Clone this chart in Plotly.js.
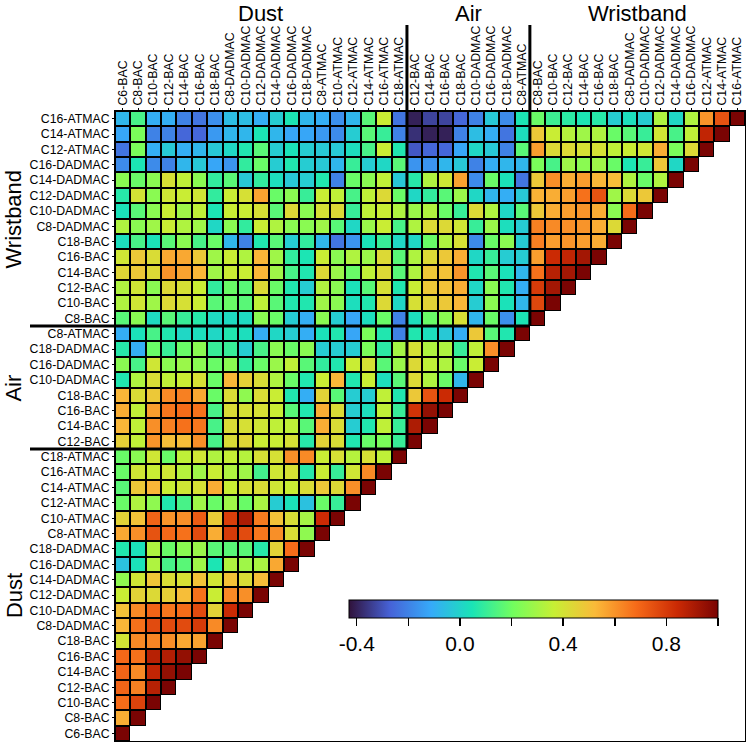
<!DOCTYPE html>
<html>
<head>
<meta charset="utf-8">
<script src="https://cdn.plot.ly/plotly-3.0.1.min.js"></script>
<style>
html,body{margin:0;padding:0;background:#fff;}
#chart{width:748px;height:744px;}
</style>
</head>
<body>
<div id="chart"></div>
<script>
// ---- labels ----
const dustLabels = ["C6-BAC","C8-BAC","C10-BAC","C12-BAC","C14-BAC","C16-BAC","C18-BAC",
  "C8-DADMAC","C10-DADMAC","C12-DADMAC","C14-DADMAC","C16-DADMAC","C18-DADMAC",
  "C8-ATMAC","C10-ATMAC","C12-ATMAC","C14-ATMAC","C16-ATMAC","C18-ATMAC"];
const airLabels = ["C12-BAC","C14-BAC","C16-BAC","C18-BAC","C10-DADMAC","C16-DADMAC","C18-DADMAC","C8-ATMAC"];
const wristLabels = ["C8-BAC","C10-BAC","C12-BAC","C14-BAC","C16-BAC","C18-BAC",
  "C8-DADMAC","C10-DADMAC","C12-DADMAC","C14-DADMAC","C16-DADMAC","C12-ATMAC","C14-ATMAC","C16-ATMAC"];
const groupNames = ["Dust","Air","Wristband"];

// ---- correlation values: row i (from bottom) holds columns 0..i ----
const corrRows = [
 [1],
 [0.55,1],
 [0.68,0.78,1],
 [0.70,0.64,0.88,1],
 [0.70,0.62,0.86,0.95,1],
 [0.69,0.67,0.88,0.89,0.95,1],
 [0.40,0.62,0.63,0.61,0.56,0.57,1],
 [0.53,0.67,0.76,0.76,0.76,0.80,0.62,1],
 [0.50,0.62,0.70,0.66,0.68,0.76,0.45,0.84,1],
 [0.37,0.45,0.43,0.46,0.51,0.67,0.37,0.62,0.61,1],
 [0.26,0.39,0.49,0.42,0.41,0.50,0.39,0.50,0.42,0.51,1],
 [-0.05,0.04,0.32,0.13,0.16,0.29,0.05,0.32,0.29,0.31,0.56,1],
 [0.06,0.04,0.32,0.19,0.25,0.28,0.16,0.16,0.16,0.07,0.45,0.68,1],
 [0.56,0.61,0.74,0.69,0.67,0.76,0.55,0.80,0.76,0.66,0.61,0.42,0.26,1],
 [0.45,0.50,0.70,0.60,0.61,0.72,0.47,0.79,0.90,0.65,0.50,0.42,0.30,0.84,1],
 [0.19,0.32,0.26,0.06,0.13,0.29,0.19,0.29,0.19,0.31,-0.02,0.04,-0.05,0.19,0.10,1],
 [0.16,0.48,0.53,0.37,0.39,0.41,0.55,0.37,0.41,0.42,0.39,0.37,0.42,0.48,0.43,0.61,1],
 [0.19,0.39,0.37,0.39,0.33,0.29,0.37,0.32,0.29,0.12,0.39,0.41,0.07,0.37,0.10,0.39,0.62,1],
 [0.19,0.25,0.39,0.19,0.35,0.39,0.32,0.36,0.33,0.41,0.41,0.61,0.62,0.37,0.41,0.33,0.41,0.35,1],
 [0.46,0.35,0.60,0.51,0.51,0.61,0.13,0.42,0.44,0.37,0.37,0.41,0.07,0.45,0.42,0.06,0.19,0.22,0.10,1],
 [0.53,0.35,0.61,0.64,0.67,0.66,0.13,0.42,0.41,0.39,0.35,0.35,0.16,0.55,0.42,-0.02,0.06,0.35,0.10,0.90,1],
 [0.55,0.35,0.58,0.66,0.68,0.67,0.13,0.42,0.41,0.41,0.37,0.16,0.06,0.55,0.42,-0.02,0.03,0.35,0.10,0.82,0.95,1],
 [0.53,0.42,0.48,0.62,0.64,0.56,0.19,0.42,0.26,0.42,0.37,0.06,-0.10,0.45,0.16,-0.02,-0.02,0.35,0.06,0.48,0.74,0.84,1],
 [0.06,0.32,0.42,0.35,0.37,0.41,0.19,0.53,0.46,0.42,0.32,0.19,0.06,0.37,0.53,0.06,0.37,0.03,0.16,0.43,0.32,0.19,-0.08,1],
 [0.25,0.13,0.39,0.25,0.28,0.25,0.19,0.25,0.09,0.19,0.28,0.35,0.16,0.09,0.06,0.37,0.41,0.16,0.28,0.43,0.35,0.32,0.19,0.37,1],
 [0.07,-0.10,0.19,0.10,0.19,0.25,0.10,0.10,-0.02,0.13,0.25,0.19,0.25,-0.02,-0.02,-0.02,0.22,0.08,0.30,0.41,0.32,0.32,0.10,0.35,0.61,1],
 [-0.10,0.04,0.13,0.06,0.01,0.03,0.01,0.06,0.03,-0.10,0.01,-0.02,-0.10,0.04,0.06,-0.12,0.22,0.06,-0.20,0.06,0.03,-0.03,-0.10,0.48,0.16,0.06,1],
 [0.16,0.25,0.02,0.16,0.10,0.07,0.02,0.02,0.02,0.25,0.19,-0.02,-0.10,0.25,-0.02,-0.12,0.03,0.19,-0.20,0.03,0.19,0.25,0.41,-0.08,0.19,-0.17,0.05,1],
 [0.32,0.39,0.29,0.43,0.41,0.37,0.16,0.19,0.16,0.35,0.16,0.06,0.06,0.29, 0.25,0.03,0.06,0.43,0.01,0.41,0.45,0.48,0.53,-0.02,0.25,0.04,-0.08,0.77, 1],
 [0.32,0.39,0.25,0.43,0.41,0.37,0.09,0.19,0.16,0.43,0.19,0.06,-0.02,0.32, 0.25,0.04,0.16,0.41,0.06,0.37,0.48,0.50,0.55,0.01,0.25,0.06,-0.10,0.80, 0.92,1],
 [0.44,0.48,0.43,0.60,0.57,0.53,0.29,0.37,0.37,0.53,0.29,0.13,0.06,0.43, 0.28,0.19,0.35,0.43,0.16,0.32,0.48,0.50,0.60,0.06,0.16,0.04,-0.08,0.67, 0.88,0.92,1],
 [0.39,0.48,0.42,0.56,0.56,0.48,0.29,0.37,0.32,0.53,0.29,0.09,0.05,0.37, 0.25,0.32,0.28,0.43,0.16,0.32,0.43,0.48,0.55,0.01,0.10,-0.02,-0.02,0.58, 0.84,0.86,0.92,1],
 [0.03,0.13,0.04,0.16,0.25,0.13,0.19,-0.08,-0.20,0.06,0.16,-0.02,0.09,-0.08, -0.23,-0.16,0.04,0.10,0.01,0.01,0.19,0.32,0.41,-0.18,0.19,0.25,-0.02,0.64, 0.58,0.60,0.58,0.55,1],
 [0.32,0.25,0.29,0.37,0.32,0.29,0.01,0.25,0.09,0.37,0.32,0.25,0.25,0.29, 0.16,0.01,0.28,0.37,0.13,0.32,0.43,0.43,0.39,0.10,0.28,0.03,-0.02,0.64, 0.62,0.61,0.60,0.55,0.43,1],
 [0.04,0.16,0.25,0.37,0.29,0.35,0.05,0.37,0.37,0.41,0.16,0.43,0.25,0.41, 0.43,0.10,0.35,0.37,0.32,0.28,0.32,0.19,0.10,0.43,0.32,0.01,0.16,0.48, 0.55,0.58,0.60,0.55,0.25,0.68,1],
 [0.07,0.40,0.25,0.39,0.37,0.39,0.09,0.37,0.41,0.57,0.19,0.25,0.10,0.37, 0.35,0.13,0.35,0.43,0.19,0.01,0.09,0.16,0.28,0.01,-0.08,-0.10,-0.03,0.54, 0.55,0.58,0.67,0.74,0.29,0.43,0.48,1],
 [0.25,0.19,0.25,0.41,0.35,0.25,0.09,0.16,-0.03,0.09,0.03,-0.03,-0.02,0.06, -0.20,0.19,0.25,0.35,-0.03,0.07,0.32,0.39,0.57,-0.18,0.19,0.04,-0.23,0.48, 0.61,0.55,0.58,0.53,0.51,0.32,0.19,0.32,1],
 [-0.18,0.05,-0.18,-0.20,-0.08,-0.03,-0.12,-0.16,0.09,0.19,-0.02,0.06,-0.02,-0.03, -0.08,0.10,-0.02,0.01,0.16,-0.16,-0.16,-0.08,-0.03,-0.20,-0.10,-0.08,-0.08,0.22, 0.13,0.29,0.25,0.29,0.19,0.05,0.10,0.48,0.01,1],
 [-0.23,0.22,-0.10,-0.03,-0.10,-0.08,-0.03,0.01,0.06,0.16,-0.02,0.04,-0.02,-0.03, -0.03,0.03,0.13,0.37,0.06,-0.29,-0.26,-0.26,-0.12,0.01,-0.03,-0.20,0.16,0.58, 0.43,0.43,0.41,0.41,0.35,0.37,0.39,0.55,0.22,0.43,1],
 [-0.12,0.22,-0.20,-0.20,-0.26,-0.26,-0.15,-0.08,-0.08,0.05,-0.08,-0.12,-0.12,-0.15, -0.18,-0.02,0.16,0.10,-0.20,-0.37,-0.40,-0.40,-0.20,-0.06,-0.10,-0.23,0.03,0.48, 0.37,0.33,0.29,0.32,0.19,0.16,0.10,0.39,0.13,0.35,0.86,1],
 [-0.08,0.13,-0.10,-0.10,-0.20,-0.23,-0.17,-0.06,-0.06,-0.10,-0.02,0.05,-0.08,-0.10, -0.17,-0.08,0.16,0.37,-0.23,-0.40,-0.33,-0.33,-0.26,-0.20,-0.03,-0.18,0.05,0.19, 0.11,0.08,0.05,0.07,-0.02,0.03,-0.02,0.32,0.01,0.32,0.60,0.74,1]
];

const colorTickVals = [-0.4,-0.2,0,0.2,0.4,0.6,0.8,1.0];
const colorTickText = ["-0.4","","0.0","","0.4","","0.8",""];

// ---- build ----
const labels = dustLabels.concat(airLabels, wristLabels);
const n = labels.length;
const idx = labels.map((_, i) => i);
const z = [], under = [];
for (let i = 0; i < n; i++) {
  const row = [], urow = [];
  for (let j = 0; j < n; j++) {
    if (j <= i) { row.push(corrRows[i][j]); urow.push(1); }
    else { row.push(null); urow.push(null); }
  }
  z.push(row); under.push(urow);
}

const turbo = [[0,'#30123B'],[1/9,'#4662D7'],[2/9,'#36AAF9'],[3/9,'#1AE4B6'],[4/9,'#72FE5E'],
  [5/9,'#C7EF34'],[6/9,'#FABA39'],[7/9,'#F66B19'],[8/9,'#CB2A04'],[1,'#7A0403']];

const L = 115, T = 111, W = 630, H = 630;
const px = x => (x - L) / W;            // pixel -> paper x
const py = y => 1 - (y - T) / H;        // pixel -> paper y
const nD = dustLabels.length, nA = airLabels.length;
const b1 = nD / n, b2 = (nD + nA) / n;  // group boundaries in paper units

const traces = [
  {type:'heatmap', x: idx, y: idx, z: under, colorscale:[[0,'#000'],[1,'#000']],
   showscale:false, hoverinfo:'skip', zmin:0, zmax:1},
  {type:'heatmap', x: idx, y: idx, z: z, colorscale: turbo, zmin:-0.43, zmax:1.0,
   xgap:2, ygap:2,
   colorbar:{orientation:'h', lenmode:'pixels', len:369, thickness:18,
     x: px(349), xanchor:'left', y: py(600), yanchor:'top', xpad:0, ypad:0,
     outlinewidth:1, outlinecolor:'#000',
     tickvals: colorTickVals, ticktext: colorTickText,
     ticks:'outside', ticklen:8, tickwidth:1.5, tickcolor:'#000',
     tickfont:{family:'Liberation Sans, Arial, sans-serif', size:21, color:'#000'}}}
];

const lineStyle = {color:'#000', width:3};
const shapes = [
  // vertical lines from above the plot down to the diagonal
  {type:'line', xref:'paper', yref:'paper', x0:b1, x1:b1, y0:py(25), y1:b1, line:lineStyle},
  {type:'line', xref:'paper', yref:'paper', x0:b2, x1:b2, y0:py(25), y1:b2, line:lineStyle},
  // horizontal lines from the left label area to the diagonal
  {type:'line', xref:'paper', yref:'paper', x0:px(30), x1:b1, y0:b1, y1:b1, line:lineStyle},
  {type:'line', xref:'paper', yref:'paper', x0:px(30), x1:b2, y0:b2, y1:b2, line:lineStyle}
];

const gCenters = [nD/2, nD + nA/2, nD + nA + wristLabels.length/2].map(c => c / n);
const titleFont = {family:'Liberation Sans, Arial, sans-serif', size:22, color:'#000'};
const annotations = [];
groupNames.forEach((g, k) => {
  annotations.push({text:g, xref:'paper', yref:'paper', x:gCenters[k], y:py(-1),
    xanchor:'center', yanchor:'top', showarrow:false, font:titleFont});
  annotations.push({text:g, xref:'paper', yref:'paper', x:px(14), y:gCenters[k],
    xanchor:'center', yanchor:'middle', textangle:-90, showarrow:false, font:titleFont});
});

const tickFont = {family:'Liberation Sans, Arial, sans-serif', size:12.3, color:'#000'};
const layout = {
  width:748, height:744,
  margin:{l:L, r:748-L-W, t:T, b:744-T-H, pad:0},
  paper_bgcolor:'#fff', plot_bgcolor:'#fff',
  xaxis:{side:'top', range:[-0.5, n-0.5], tickvals: idx, ticktext: labels, tickangle:-90,
    tickfont: tickFont, ticks:'outside', ticklen:2, tickcolor:'#000',
    showgrid:false, zeroline:false, showline:true, mirror:true, linecolor:'#000', linewidth:1,
    fixedrange:true},
  yaxis:{range:[-0.5, n-0.5], tickvals: idx, ticktext: labels,
    tickfont: tickFont, ticks:'outside', ticklen:2, tickcolor:'#000',
    showgrid:false, zeroline:false, showline:true, mirror:true, linecolor:'#000', linewidth:1,
    fixedrange:true},
  shapes: shapes,
  annotations: annotations,
  showlegend:false
};

Plotly.newPlot('chart', traces, layout, {displayModeBar:false, staticPlot:true});
</script>
</body>
</html>
